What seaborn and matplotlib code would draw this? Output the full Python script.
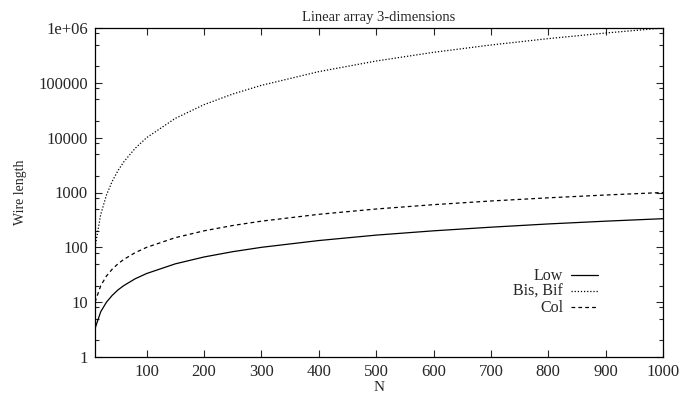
import matplotlib
matplotlib.use("Agg")
import matplotlib.pyplot as plt
import seaborn as sns
import pandas as pd
from matplotlib.ticker import LogLocator, FixedLocator, FixedFormatter

N = [10, 20, 30, 40, 50, 60, 80, 100, 150, 200, 250, 300, 400, 500, 600, 700, 800, 900, 1000]
low = [3.3, 6.7, 10, 13.3, 16.7, 20, 26.7, 33.3, 50, 66.7, 83.3, 100, 133, 167, 200, 233, 267, 300, 333]
bis = [100, 400, 900, 1600, 2500, 3600, 6400, 10000, 22500, 40000, 62500, 90000, 160000,
       250000, 360000, 490000, 640000, 810000, 1000000]
col = [10, 20, 30, 40, 50, 60, 80, 100, 150, 200, 250, 300, 400, 500, 600, 700, 800, 900, 1000]
series_names = ["Low", "Bis, Bif", "Col"]
xticks = [100, 200, 300, 400, 500, 600, 700, 800, 900, 1000]
yticks = [1, 10, 100, 1000, 10000, 100000, 1000000]
ytick_labels = ["1", "10", "100", "1000", "10000", "100000", "1e+06"]

df = pd.concat([
    pd.DataFrame({"N": N, "val": low, "series": series_names[0]}),
    pd.DataFrame({"N": N, "val": bis, "series": series_names[1]}),
    pd.DataFrame({"N": N, "val": col, "series": series_names[2]}),
])

sns.set_style("ticks")
plt.rcParams["font.family"] = ["Liberation Serif", "DejaVu Serif"]
plt.rcParams["font.size"] = 11

fig = plt.figure(figsize=(6.82, 3.93), dpi=100)
ax = fig.add_axes([95 / 682, 1 - 357 / 393, (663 - 95) / 682, (357 - 28) / 393])

sns.lineplot(data=df, x="N", y="val", hue="series", style="series",
             palette={s: "black" for s in series_names},
             dashes={"Low": "", "Bis, Bif": (1, 1.5), "Col": (3, 2.5)},
             linewidth=0.9, ax=ax, legend=True, sort=False)

ax.set_yscale("log")
ax.set_xlim(10, 1000)
ax.set_ylim(1, 1e6)
ax.xaxis.set_major_locator(FixedLocator(xticks))
ax.yaxis.set_major_locator(FixedLocator(yticks))
ax.yaxis.set_major_formatter(FixedFormatter(ytick_labels))
ax.yaxis.set_minor_locator(LogLocator(base=10, subs=(2, 5, 8)))
ax.yaxis.set_minor_formatter(FixedFormatter([]))
ax.tick_params(which="both", direction="in", top=True, right=True, labelsize=12, width=0.8)
ax.tick_params(which="major", length=5, pad=5)
ax.tick_params(which="minor", length=3)
for s in ax.spines.values():
    s.set_linewidth(0.9)
    s.set_color("black")

ax.set_title("Linear array 3-dimensions", fontsize=10.5, pad=5)
ax.set_xlabel("N", fontsize=11, labelpad=1)
ax.set_ylabel("Wire length", fontsize=10, labelpad=8)

handles, labels = ax.get_legend_handles_labels()
leg = ax.legend(handles, labels, loc="lower right", bbox_to_anchor=(0.9, 0.1),
                frameon=False, markerfirst=False, fontsize=11.5, handlelength=1.7,
                handletextpad=0.5, labelspacing=0.0, borderpad=0)
for t in leg.get_texts():
    t.set_ha("right")
leg._legend_box.align = "right"

fig.savefig("out.png", dpi=100)
